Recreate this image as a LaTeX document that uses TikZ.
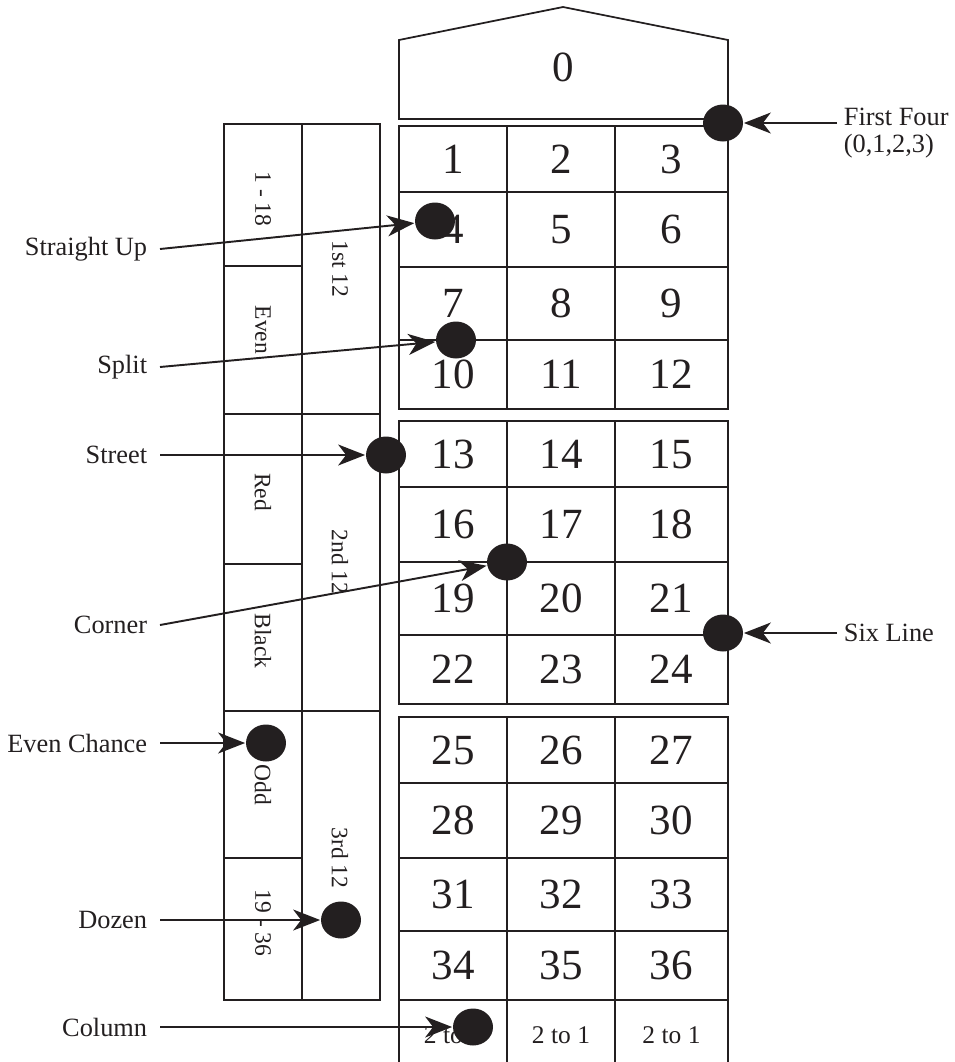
\documentclass[tikz,border=0pt]{standalone}
\usepackage{fontspec}
\setmainfont{Liberation Serif}
\usepackage{xcolor}
\definecolor{ink}{HTML}{231F20}
\usetikzlibrary{arrows.meta, positioning, shapes.geometric}

\begin{document}
\begin{tikzpicture}[
    x=0.02cm, y=-0.02cm, color=ink, line width=1pt,
    num/.style={font=\fontsize{24.5}{28}\selectfont, inner sep=0},
    small/.style={font=\fontsize{14.5}{17}\selectfont, inner sep=0},
    side/.style={font=\fontsize{13.4}{16}\selectfont, rotate=-90, inner sep=0},
    lbl/.style={font=\fontsize{15}{15.4}\selectfont, inner xsep=0.24cm, inner ysep=0},
    chip/.style={ellipse, fill=ink, minimum width=0.8cm, minimum height=0.74cm,
                 inner sep=0},
    bet/.style={-{Stealth[length=0.54cm, width=0.42cm, inset=0.16cm]},
                line width=1.1pt}
  ]
    \useasboundingbox (0,0) rectangle (954,1062);

    % Zero
    \draw (399,119) -- (399,40) -- (563,7) -- (728,40) -- (728,119) -- cycle;
    \node[num] (n0) at (563,67) {0};

    % Numbers 1 - 36, three blocks
    \foreach \top [count=\b from 0] in {126,421,717} {
      \draw (399,\top) rectangle (728,\top+283);
      \foreach \dy in {66,141,214}
        \draw (399,\top+\dy) -- (728,\top+\dy);
      \foreach \x in {507,615}
        \draw (\x,\top) -- (\x,\top+283);
      \foreach \r/\cy in {0/33,1/103.5,2/177.5,3/248.5}
        \foreach \c/\cx in {0/453,1/561,2/671.5} {
          \pgfmathtruncatemacro{\k}{12*\b+3*\r+\c+1}
          \node[num] (n\k) at (\cx,\top+\cy) {\k};
        }
    }

    % Columns
    \foreach \x in {399,507,615,728}
      \draw (\x,1000) -- (\x,1062);
    \foreach \cx [count=\i] in {453,561,671.5}
      \node[small] (col\i) at (\cx,1035) {2 to 1};

    % Outside bets
    \draw (224,124) rectangle (380,1000);
    \draw (302,124) -- (302,1000);
    \foreach \y in {414,711}
      \draw (224,\y) -- (380,\y);
    \foreach \y in {266,564,858}
      \draw (224,\y) -- (302,\y);

    \node[side] (low) at (263,199) {1 - 18};
    \node[side] (even) at (263,330) {Even};
    \node[side] (red) at (263,492) {Red};
    \node[side] (black) at (263,641) {Black};
    \node[side] (odd) at (263,785) {Odd};
    \node[side] (high) at (263,923) {19 - 36};
    \node[side] (doz1) at (340,269) {1st 12};
    \node[side] (doz2) at (340,562) {2nd 12};
    \node[side] (doz3) at (340,858) {3rd 12};

    % Chips
    \node[chip] (cFour) at (723,123) {};
    \node[chip] (cStraight) at (435,221) {};
    \node[chip] (cSplit) at (456,340) {};
    \node[chip] (cStreet) at (386,455) {};
    \node[chip] (cCorner) at (507,562) {};
    \node[chip] (cSix) at (723,633) {};
    \node[chip] (cEven) at (266,743) {};
    \node[chip] (cDozen) at (341,920) {};
    \node[chip] (cColumn) at (473,1027) {};

    % Bet names
    \node[lbl, anchor=east] (lStraight) at (160,249) {Straight Up};
    \node[lbl, anchor=east] (lSplit) at (160,367) {Split};
    \node[lbl, anchor=east] (lStreet) at (160,455) {Street};
    \node[lbl, anchor=east] (lCorner) at (160,625) {Corner};
    \node[lbl, anchor=east] (lEven) at (160,743) {Even Chance};
    \node[lbl, anchor=east] (lDozen) at (160,920) {Dozen};
    \node[lbl, anchor=east] (lColumn) at (160,1027) {Column};
    \node[lbl, anchor=base west, inner xsep=0.12cm] (lFour) at (837,125) {First Four};
    \node[lbl, anchor=base west, inner xsep=0.12cm] (lFourSub) at (837,152) {(0,1,2,3)};
    \node[lbl, anchor=west, inner xsep=0.12cm] (lSix) at (837,633) {Six Line};

    % Arrows
    \draw[bet] (lStraight.east) -- (cStraight);
    \draw[bet] (lSplit.east) -- (cSplit);
    \draw[bet] (lStreet.east) -- (cStreet);
    \draw[bet] (lCorner.east) -- (cCorner);
    \draw[bet] (lEven.east) -- (cEven);
    \draw[bet] (lDozen.east) -- (cDozen);
    \draw[bet] (lColumn.east) -- (cColumn);
    \draw[bet] (lFour.west |- cFour) -- (cFour);
    \draw[bet] (lSix.west) -- (cSix);
  \end{tikzpicture}
\end{document}
